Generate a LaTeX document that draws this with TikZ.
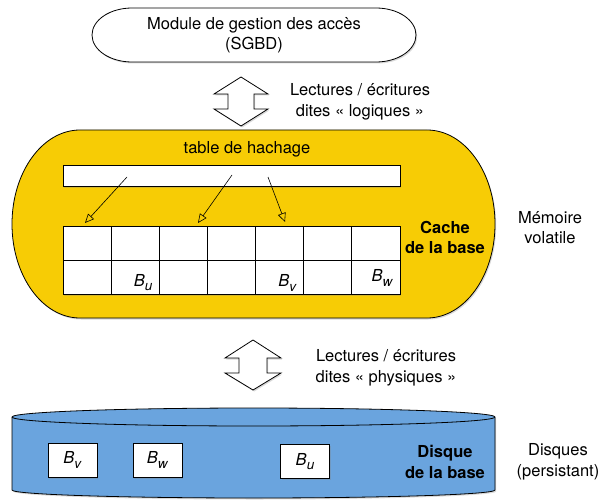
\documentclass[tikz,border=0pt]{standalone}
\usepackage{fontspec}
\setmainfont{TeX Gyre Heros}
\usetikzlibrary{arrows.meta,shadows}
\definecolor{cacheyellow}{HTML}{F7CC05}
\definecolor{diskblue}{HTML}{6AA4DE}
\newcommand{\blk}[1]{\textit{B}\raisebox{-0.55ex}{\fontsize{13.5}{13.5}\selectfont\textit{#1}}}

\begin{document}
\begin{tikzpicture}[x=1pt,y=1pt,font=\fontsize{16.5}{20.5}\selectfont,line width=0.8pt,
  shad/.style={drop shadow={opacity=0.3,shadow xshift=1.2pt,shadow yshift=-1.5pt}},
  cell/.style={draw,fill=white,minimum width=48.14pt,minimum height=34pt,inner sep=0pt},
  dbox/.style={draw,fill=white,minimum width=49pt,minimum height=34pt,inner sep=0pt,shad},
  blabel/.style={anchor=south east,inner xsep=7pt,inner ysep=3pt},
  bold/.style={font=\fontsize{16.5}{20.5}\selectfont\bfseries,align=center},
  ptr/.style={-{Triangle[open,length=9pt,width=8pt]},line width=0.6pt}]
\useasboundingbox (0,0) rectangle (602,499);

% module d'acces
\draw[fill=white,shad] (132,491) -- (376,491) arc[start angle=90,end angle=-90,x radius=40,y radius=27] -- (132,437) arc[start angle=270,end angle=90,x radius=40,y radius=27] -- cycle;
\node[align=center] (sgbd) at (254,464) {Module de gestion des accès\\(SGBD)};

% lectures logiques
\draw[fill=white,shad] (241,422) -- ++(27,-17) -- ++(-14,0) -- ++(0,-15) -- ++(14,0) -- ++(-27,-17) -- ++(-27,17) -- ++(14,0) -- ++(0,15) -- ++(-14,0) -- cycle;
\node[align=center] (logi) at (360,397) {Lectures / écritures\\dites « logiques »};

% cache
\draw[fill=cacheyellow,shad] (80,369) -- (427,369) arc[start angle=90,end angle=-90,x radius=68,y radius=94] -- (80,181) arc[start angle=270,end angle=90,x radius=68,y radius=94] -- cycle;
\node (hashlbl) at (247,350) {table de hachage};
\node[draw,fill=white,shad,minimum width=337pt,minimum height=21pt,inner sep=0pt] (hash) at (231.5,323.5) {};

\node[draw,fill=white,shad,minimum width=337pt,minimum height=68pt,inner sep=0pt] (grid) at (231.5,239) {};
\node[cell] (c1) at (87.07,256) {};
\node[cell] (c2) at (135.21,256) {};
\node[cell] (c3) at (183.36,256) {};
\node[cell] (c4) at (231.5,256) {};
\node[cell] (c5) at (279.64,256) {};
\node[cell] (c6) at (327.79,256) {};
\node[cell] (c7) at (375.93,256) {};
\node[cell] (d1) at (87.07,222) {};
\node[cell] (d2) at (135.21,222) {};
\node[cell] (d3) at (183.36,222) {};
\node[cell] (d4) at (231.5,222) {};
\node[cell] (d5) at (279.64,222) {};
\node[cell] (d6) at (327.79,222) {};
\node[cell] (d7) at (375.93,222) {};
\node[blabel] (bu) at (d2.south east) {\blk{u}};
\node[blabel] (bv) at (d5.south east) {\blk{v}};
\node[blabel,yshift=5pt] (bw) at (d7.south east) {\blk{w}};

\coordinate (h1) at (127,322);
\coordinate (h2) at (232,324);
\coordinate (h3) at (268,322);
\coordinate (t1) at (85,276);
\coordinate (t2) at (198,276);
\coordinate (t3) at (285,277);
\draw[ptr] (h1) -- (t1);
\draw[ptr] (h2) -- (t2);
\draw[ptr] (h3) -- (t3);

\node[bold] (cachelbl) at (445,261.5) {Cache\\de la base};
\node[align=center] (mem) at (550,271.5) {Mémoire\\volatile};

% lectures physiques
\draw[fill=white,shad] (253,159) -- ++(28,-18) -- ++(-14,0) -- ++(0,-15) -- ++(14,0) -- ++(-28,-17) -- ++(-28,17) -- ++(14,0) -- ++(0,15) -- ++(-14,0) -- cycle;
\node[align=center] (phys) at (386,131) {Lectures / écritures\\dites « physiques »};

% disque
\draw[fill=diskblue,shad] (12,82) -- (12,9) arc[start angle=180,end angle=360,x radius=241.5,y radius=8] -- (495,82) arc[start angle=0,end angle=180,x radius=241.5,y radius=9] -- cycle;
\draw (12,82) arc[start angle=180,end angle=360,x radius=241.5,y radius=9];
\node[dbox] (dv) at (72.5,39) {\blk{v}};
\node[dbox] (dw) at (157.5,39) {\blk{w}};
\node[dbox] (du) at (305,37.5) {\blk{u}};
\node[bold] (disklbl) at (445,37) {Disque\\de la base};
\node[align=center] (disks) at (558,37) {Disques\\(persistant)};

\end{tikzpicture}
\end{document}
